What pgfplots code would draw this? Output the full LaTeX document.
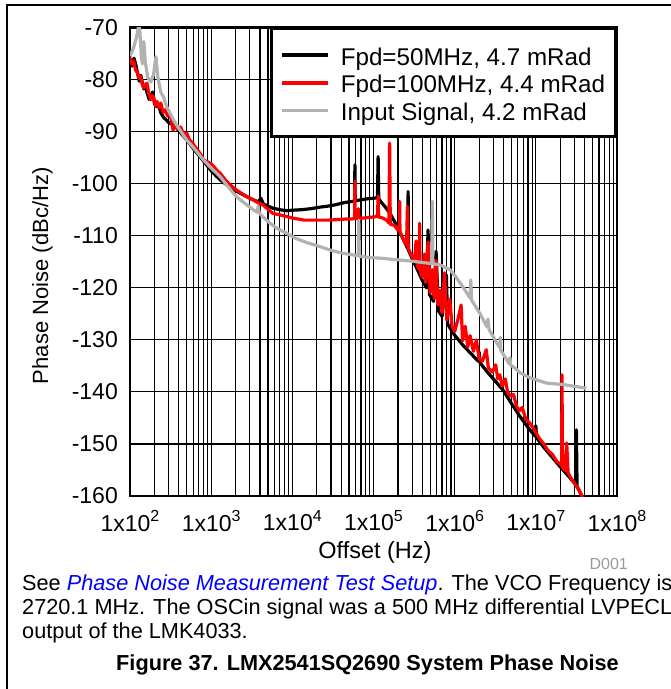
\documentclass[border=0pt]{standalone}
\usepackage{pgfplots}
\pgfplotsset{compat=1.18}
\usepackage{fontspec}
\setmainfont{Liberation Sans}
\definecolor{grayline}{RGB}{178,178,178}
\newcommand{\sci}[1]{\mbox{1x10\raisebox{0.42em}{\fontsize{16}{16}\selectfont #1}}}
\begin{document}
\begin{tikzpicture}
\useasboundingbox (0,0) rectangle (671pt,-689pt);
\draw[line width=1.3pt] (7pt,-689pt) -- (7pt,-5pt) -- (671pt,-5pt);
\begin{axis}[
  at={(130pt,-496pt)}, anchor=south west,
  scale only axis, width=487pt, height=468.5pt,
  xmode=log, xmin=100, xmax=1e8, ymin=-160, ymax=-70,
  xtick={1e2,1e3,1e4,1e5,1e6,1e7,1e8},
  xticklabels={\sci{2},\sci{3},\sci{4},\sci{5},\sci{6},\sci{7},\sci{8}},
  ytick={-160,-150,-140,-130,-120,-110,-100,-90,-80,-70},
  yticklabels={\mbox{-160},\mbox{-150},\mbox{-140},\mbox{-130},\mbox{-120},\mbox{-110},\mbox{-100},\mbox{-90},\mbox{-80},\mbox{-70}},
  major tick length=0pt, minor tick length=0pt,
  grid=both,
  major grid style={black, line width=1.2pt},
  minor grid style={black, line width=1.2pt},
  axis line style={line width=2.8pt},
  tick label style={font=\fontsize{23}{27}\selectfont},
  xticklabel style={inner sep=0pt, yshift=-14pt},
  yticklabel style={inner sep=0pt, xshift=-12pt},
  xlabel={Offset (Hz)}, ylabel={Phase Noise (dBc/Hz)},
  xlabel style={font=\fontsize{23.5}{27}\selectfont, at={(axis description cs:0.503,-0.12)}, anchor=center},
  ylabel style={font=\fontsize{22}{26}\selectfont, at={(axis description cs:-0.18,0.47)}, anchor=center},
  legend cell align=left,
  legend image code/.code={\draw[#1, line width=3.6pt] (0pt,0pt) -- (46pt,0pt);},
  legend style={at={(1,1)}, anchor=north east, draw=black, line width=2.8pt, fill=white,
    font=\fontsize{24.2}{28}\selectfont, inner xsep=8.5pt, inner ysep=13pt, row sep=1.8pt,
    nodes={inner xsep=2pt, inner ysep=2pt, text height=21.2pt, text depth=0.8pt},
    /tikz/every odd column/.append style={column sep=9pt}},
]
\addplot[black, line width=3.2pt, line join=round] coordinates {
(100,-76.3)(106,-77.4)(112,-75.9)(118,-77.2)(124,-78.8)(130,-80.3)(136,-79.2)(142,-80.6)(148,-81.8)(155,-81.2)
(163,-82.6)(172,-83.8)(180,-83.2)(190,-82.4)(200,-84.6)(212,-85.2)(225,-85.0)(240,-86.4)(260,-87.3)(282,-87.8)
(300,-88.3)(330,-88.6)(360,-89.0)(400,-89.8)(440,-90.6)(500,-91.6)(560,-92.6)(620,-93.5)(700,-94.5)(800,-95.6)
(900,-96.6)(1000,-97.5)(1150,-98.5)(1300,-99.3)(1550,-100.2)(1800,-100.9)(2200,-101.7)(2750,-102.5)(3300,-103.1)
(3800,-103.5)(4100,-102.8)(4400,-103.9)(5000,-104.3)(5750,-104.7)(7000,-105.0)(8500,-105.2)
(1e4,-105.1)(1.3e4,-105.0)(1.7e4,-104.8)(2.2e4,-104.5)(2.8e4,-104.3)(3.5e4,-104.0)(4.5e4,-103.6)(5.5e4,-103.4)
(5.85e4,-103.3)(5.9e4,-96.4)(5.95e4,-103.3)(7e4,-103.1)(8.5e4,-102.9)(1e5,-102.8)(1.12e5,-102.7)(1.14e5,-94.8)(1.16e5,-102.9)
(1.25e5,-103.6)(1.4e5,-104.5)(1.6e5,-105.7)(1.8e5,-107.2)(2.0e5,-108.5)(2.25e5,-110.2)(2.5e5,-111.7)(2.64e5,-112.5)
(2.67e5,-101.5)(2.70e5,-112.8)(3.0e5,-114.4)(3.5e5,-116.6)(4.0e5,-118.6)(4.5e5,-120.0)(4.7e5,-108.9)(4.9e5,-121.3)
(5.5e5,-122.6)(5.9e5,-113.0)(6.3e5,-124.4)(7.0e5,-125.5)(7.9e5,-117.5)(8.2e5,-127.0)(9.0e5,-128.0)(1.0e6,-129.1)
(1.26e6,-131.0)(1.6e6,-132.7)(1.95e6,-134.1)(2.0e6,-132.3)(2.05e6,-134.4)(2.5e6,-136.1)(3.2e6,-138.0)(4.0e6,-139.8)
(5.0e6,-142.2)(6.3e6,-144.6)(8.0e6,-146.8)(9.8e6,-148.5)(1.0e7,-146.5)(1.02e7,-148.8)(1.26e7,-150.7)(1.6e7,-152.6)
(2.0e7,-154.4)(2.5e7,-156.1)(3.1e7,-157.8)(3.16e7,-147.3)(3.22e7,-158.2)(3.7e7,-160)
};
\addlegendentry{Fpd=50MHz, 4.7 mRad}
\addplot[red, line width=3.2pt, line join=round] coordinates {
(100,-75.8)(105,-77.0)(111,-76.4)(117,-78.2)(123,-78.6)(129,-79.8)(135,-79.4)(141,-80.9)(148,-81.6)(156,-80.9)
(162,-80.7)(170,-82.6)(180,-83.9)(188,-83.1)(195,-83.3)(205,-85.0)(215,-84.2)(228,-85.4)(240,-84.5)(255,-86.3)
(270,-85.8)(290,-87.0)(309,-86.5)(325,-88.0)(339,-89.7)(360,-88.9)(390,-89.5)(420,-89.1)(460,-90.6)(500,-90.3)
(540,-91.6)(590,-92.2)(640,-93.0)(700,-93.8)(760,-94.6)(800,-95.4)(900,-95.8)(1000,-96.2)(1100,-96.9)(1200,-97.6)
(1290,-98.0)(1500,-99.3)(1700,-100.2)(2040,-101.2)(2500,-102.1)(3000,-102.8)(3300,-103.1)(3800,-103.7)(4370,-104.1)
(5000,-104.9)(5750,-105.7)(7000,-106.0)(8500,-106.3)(1e4,-106.6)(1.4e4,-107.0)(2e4,-107.0)(2.8e4,-107.0)(3.6e4,-106.9)
(4.5e4,-106.8)(5.3e4,-106.8)(5.85e4,-106.7)(5.9e4,-99.5)(5.95e4,-106.7)(6.4e4,-106.7)(6.5e4,-104.8)(6.6e4,-106.7)
(7.5e4,-106.6)(8.5e4,-106.5)(1.0e5,-106.4)(1.12e5,-106.3)(1.14e5,-102.4)(1.16e5,-106.4)(1.3e5,-106.6)(1.45e5,-107.0)
(1.55e5,-107.6)(1.58e5,-92.2)(1.61e5,-107.8)(1.8e5,-108.0)(2.0e5,-108.9)(2.08e5,-108.5)(2.1e5,-103.4)(2.12e5,-109.3)
(2.3e5,-110.5)(2.55e5,-111.8)(2.62e5,-104.4)(2.68e5,-112.4)(2.9e5,-113.6)(3.2e5,-114.8)(3.35e5,-111.0)(3.45e5,-115.8)
(3.65e5,-116.4)(3.7e5,-107.6)(3.75e5,-116.7)(4.0e5,-118.0)(4.25e5,-113.5)(4.4e5,-119.0)(4.7e5,-111.2)(5.0e5,-121.0)
(5.3e5,-116.5)(5.6e5,-122.0)(5.9e5,-114.8)(6.2e5,-123.3)(6.6e5,-120.5)(7.0e5,-124.8)(7.5e5,-117.1)(8.0e5,-126.2)
(8.7e5,-122.2)(9.3e5,-127.4)(1.0e6,-128.4)(1.1e6,-126.0)(1.2e6,-123.3)(1.25e6,-130.2)(1.35e6,-127.4)(1.45e6,-131.4)
(1.55e6,-129.2)(1.7e6,-132.2)(1.85e6,-130.0)(2.0e6,-133.6)(2.2e6,-134.1)(2.45e6,-131.9)(2.6e6,-135.4)(2.9e6,-136.2)
(3.2e6,-134.8)(3.4e6,-137.5)(3.6e6,-136.7)(3.85e6,-138.9)(4.2e6,-137.5)(4.5e6,-140.1)(4.9e6,-140.8)(5.3e6,-140.5)
(5.8e6,-142.8)(6.3e6,-143.6)(6.8e6,-143.0)(7.5e6,-145.2)(8.3e6,-145.9)(9.2e6,-146.8)(1.0e7,-147.8)(1.1e7,-148.9)
(1.25e7,-150.0)(1.4e7,-151.2)(1.6e7,-152.0)(1.8e7,-153.3)(2.0e7,-153.9)(2.08e7,-154.2)(2.1e7,-136.7)(2.13e7,-154.6)
(2.3e7,-155.1)(2.4e7,-149.8)(2.5e7,-155.6)(2.8e7,-156.9)(3.1e7,-157.9)(3.4e7,-158.8)(3.75e7,-160.2)
};
\addlegendentry{Fpd=100MHz, 4.4 mRad}
\addplot[grayline, line width=3.2pt, line join=round] coordinates {
(100,-75.5)(110,-74.0)(120,-72.0)(128,-69.6)(132,-70.5)(138,-75.5)(142,-77.0)(148,-72.7)(154,-76.5)(165,-79.5)
(180,-80.5)(195,-79.0)(209,-75.6)(220,-79.5)(240,-82.5)(258,-83.3)(280,-85.0)(311,-86.5)(350,-88.0)(400,-89.4)
(450,-90.6)(500,-91.6)(600,-93.0)(700,-94.3)(800,-95.4)(1000,-97.0)(1280,-98.6)(1600,-100.5)(2050,-102.5)(2600,-103.8)
(3300,-105.0)(3700,-105.5)(3800,-104.3)(3900,-105.6)(4300,-106.3)(5300,-107.6)(6500,-108.6)(8500,-109.5)
(1.1e4,-110.5)(1.5e4,-111.3)(2.2e4,-112.1)(3.0e4,-112.8)(4.0e4,-113.3)(5.6e4,-113.7)(6.5e4,-113.8)(6.6e4,-107.0)
(6.7e4,-114.0)(7.4e4,-114.0)(9.0e4,-114.2)(1.2e5,-114.3)(1.9e5,-114.6)(3.0e5,-114.9)(4.9e5,-115.3)(5.2e5,-115.3)
(5.3e5,-103.4)(5.4e5,-115.4)(6.6e5,-115.6)(8.7e5,-116.5)(1.0e6,-117.6)(1.26e6,-119.8)(1.55e6,-122.0)(1.58e6,-118.5)
(1.62e6,-122.4)(2.04e6,-124.9)(2.5e6,-127.5)(2.57e6,-126.0)(2.65e6,-128.0)(3.3e6,-130.6)(3.6e6,-131.5)(3.65e6,-129.5)
(3.7e6,-132.0)(4.7e6,-134.6)(4.8e6,-133.4)(4.9e6,-134.9)(5.2e6,-135.1)(6.5e6,-136.4)(8.5e6,-137.3)(1.35e7,-138.3)
(2.2e7,-138.6)(4.2e7,-139.3)
};
\addlegendentry{Input Signal, 4.2 mRad}
\end{axis}
\node[anchor=base east, font=\fontsize{16}{18}\selectfont, text=gray!80, inner sep=0pt] at (628pt,-569pt) {D001};
\node[anchor=base west, font=\fontsize{21.7}{24}\selectfont, inner sep=0pt] at (22pt,-590pt) {See \textcolor{blue}{\itshape Phase Noise Measurement Test Setup}. The VCO Frequency is};
\node[anchor=base west, font=\fontsize{21.7}{24}\selectfont, inner sep=0pt] at (22pt,-614pt) {2720.1 MHz. The OSCin signal was a 500 MHz differential LVPECL};
\node[anchor=base west, font=\fontsize{21.7}{24}\selectfont, inner sep=0pt] at (22pt,-638pt) {output of the LMK4033.};
\node[anchor=base, font=\fontsize{21.7}{24}\selectfont\bfseries, inner sep=0pt] at (367.5pt,-670pt) {Figure 37. LMX2541SQ2690 System Phase Noise};
\end{tikzpicture}
\end{document}
